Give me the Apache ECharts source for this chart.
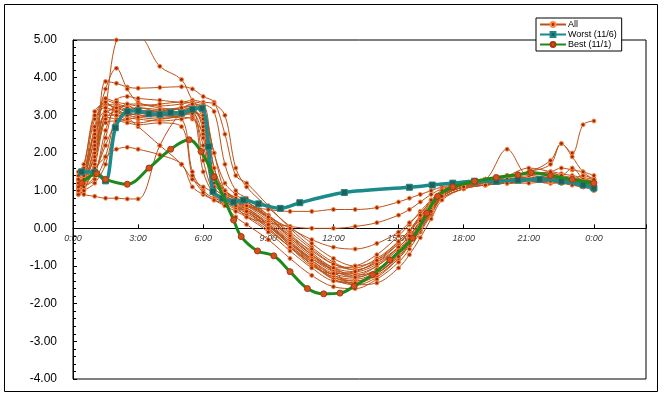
<!DOCTYPE html>
<html>
<head>
<meta charset="utf-8">
<script src="https://cdn.jsdelivr.net/npm/echarts@6/dist/echarts.min.js"></script>
<style>
  html, body { margin: 0; padding: 0; background: #fff; }
  #chart { width: 664px; height: 397px; }
</style>
</head>
<body>
<div id="chart"></div>
<script>
// sample times (hours) shared by the "All" days
const hours = [0.25, 0.5, 1, 1.5, 2, 2.5, 3, 4, 5, 5.5, 6, 6.5, 7, 7.5, 8, 9, 10, 11, 12, 13,
  14, 15, 15.5, 16, 16.5, 17, 18, 19, 20, 21, 22, 22.5, 23, 23.5, 24]

const day01 = [1.1, 1.3, 1.9, 3.2, 5.0, 5.1, 5.1, 4.3, 3.95, 3.4, 3.1, 1.6, 0.9, 0.6, 0.45, 0.05, -0.4, -0.8, -1.05, -1.0, -0.7, -0.2, 0.1, 0.45, 0.75, 1.0, 1.2, 1.25, 1.3, 1.35, 1.3, 1.3, 1.25, 1.3, 1.2]
const day02 = [1.0, 1.1, 1.6, 3.9, 3.85, 3.75, 3.72, 3.74, 3.76, 3.7, 3.5, 3.35, 2.5, 1.4, 1.2, 0.6, 0.0, -0.5, -0.9, -1.1, -0.9, -0.4, -0.1, 0.3, 0.65, 0.95, 1.15, 1.2, 1.3, 1.35, 1.4, 1.35, 1.3, 1.3, 1.25]
const day03 = [1.2, 1.4, 2.6, 3.7, 4.25, 3.7, 3.35, 3.2, 3.15, 3.1, 2.9, 1.4, 1.0, 0.8, 0.65, 0.3, -0.2, -0.6, -0.95, -1.05, -0.8, -0.35, -0.05, 0.3, 0.7, 1.0, 1.2, 1.3, 1.3, 1.35, 1.3, 1.3, 1.3, 1.25, 1.2]
const day04 = [0.9, 1.0, 1.8, 3.0, 3.2, 3.1, 3.0, 3.0, 3.05, 3.1, 2.9, 1.2, 0.9, 0.8, 0.7, 0.3, -0.25, -0.7, -1.1, -1.3, -1.1, -0.6, -0.3, 0.1, 0.5, 0.9, 1.1, 1.2, 1.25, 1.3, 1.3, 1.25, 1.3, 1.2, 1.25]
const day05 = [1.3, 1.6, 3.1, 3.3, 3.2, 3.25, 3.1, 3.0, 2.9, 1.5, 1.0, 0.8, 0.7, 0.55, 0.4, 0.0, -0.5, -0.95, -1.3, -1.45, -1.2, -0.7, -0.35, 0.05, 0.45, 0.85, 1.1, 1.15, 1.2, 1.25, 1.3, 1.2, 1.25, 1.2, 1.1]
const day06 = [1.0, 1.2, 2.2, 3.4, 3.3, 3.15, 3.2, 3.1, 3.2, 3.3, 3.0, 1.0, 0.7, 0.6, 0.5, 0.1, -0.4, -0.9, -1.35, -1.5, -1.3, -0.8, -0.45, -0.05, 0.4, 0.8, 1.05, 1.15, 1.2, 1.25, 1.2, 1.25, 1.2, 1.15, 1.2]
const day07 = [1.0, 0.9, 0.85, 0.8, 0.8, 0.78, 0.78, 2.2, 3.1, 3.2, 3.1, 2.0, 1.0, 0.8, 0.7, 0.35, -0.1, -0.55, -0.95, -1.1, -0.9, -0.5, -0.2, 0.2, 0.6, 0.95, 1.15, 1.2, 1.25, 1.3, 1.35, 1.3, 1.25, 1.2, 1.2]
const day08 = [1.1, 1.2, 1.5, 2.2, 2.8, 2.9, 2.7, 2.2, 1.7, 1.3, 1.1, 0.95, 0.8, 0.65, 0.5, 0.1, -0.35, -0.8, -1.15, -1.25, -1.0, -0.5, -0.2, 0.2, 0.6, 0.95, 1.15, 1.2, 1.2, 1.25, 1.2, 1.2, 1.15, 1.1, 1.1]
const day09 = [1.2, 1.3, 1.5, 2.4, 3.4, 3.5, 3.45, 3.4, 3.35, 3.4, 3.35, 3.3, 3.0, 1.6, 1.1, 0.55, 0.05, -0.4, -0.8, -1.0, -0.85, -0.4, -0.1, 0.25, 0.6, 0.95, 1.2, 1.3, 1.35, 1.4, 1.5, 1.45, 1.4, 1.35, 1.3]
const day10 = [1.4, 1.5, 2.5, 2.95, 2.9, 2.85, 2.8, 2.9, 2.95, 2.9, 2.5, 1.1, 0.85, 0.7, 0.55, 0.15, -0.35, -0.85, -1.25, -1.4, -1.2, -0.75, -0.4, 0.0, 0.45, 0.85, 1.1, 1.2, 1.25, 1.3, 1.4, 1.35, 1.3, 1.4, 1.3]
const day11 = [1.0, 1.1, 2.0, 3.1, 3.15, 3.0, 3.05, 3.1, 3.2, 3.15, 2.8, 1.3, 1.0, 0.8, 0.6, 0.5, 0.45, 0.45, 0.5, 0.5, 0.55, 0.7, 0.8, 0.9, 1.0, 1.1, 1.2, 1.3, 1.4, 1.45, 1.5, 1.6, 1.55, 1.5, 1.4]
const day12 = [1.1, 1.2, 1.7, 2.9, 3.1, 3.05, 3.0, 2.95, 3.0, 3.1, 2.7, 1.2, 0.9, 0.6, 0.3, 0.15, 0.05, 0.0, 0.0, 0.05, 0.15, 0.35, 0.5, 0.7, 0.9, 1.05, 1.2, 1.25, 1.3, 1.3, 1.35, 1.3, 1.3, 1.25, 1.2]
const day13 = [1.2, 1.4, 2.9, 3.2, 3.1, 3.0, 2.95, 2.9, 3.0, 3.1, 1.8, 0.9, 0.6, 0.3, 0.1, -0.3, -0.8, -1.25, -1.55, -1.6, -1.35, -0.9, -0.55, -0.1, 0.35, 0.8, 1.05, 1.15, 1.2, 1.25, 1.25, 1.2, 1.2, 1.15, 1.1]
const day14 = [1.0, 1.1, 1.4, 2.6, 3.2, 3.25, 3.15, 3.1, 3.2, 3.25, 3.0, 1.4, 0.95, 0.75, 0.6, 0.2, -0.3, -0.75, -1.1, -1.2, -1.0, -0.55, -0.25, 0.15, 0.55, 0.9, 1.2, 1.3, 2.1, 1.4, 1.45, 1.4, 1.35, 1.3, 1.25]
const day15 = [1.1, 1.3, 2.4, 3.3, 3.2, 3.1, 3.1, 3.05, 3.1, 3.2, 2.6, 1.1, 0.85, 0.7, 0.55, 0.1, -0.45, -0.9, -1.25, -1.35, -1.15, -0.65, -0.3, 0.1, 0.5, 0.9, 1.15, 1.25, 1.35, 1.5, 1.7, 2.25, 2.0, 2.75, 2.85]
const day16 = [1.3, 1.4, 1.6, 1.9, 2.1, 2.15, 2.1, 1.95, 1.7, 1.1, 0.9, 0.75, 0.65, 0.5, 0.35, -0.05, -0.5, -0.95, -1.3, -1.4, -1.2, -0.7, -0.35, 0.05, 0.45, 0.85, 1.1, 1.2, 1.25, 1.3, 1.3, 1.25, 1.2, 1.2, 1.15]
const day17 = [1.0, 1.1, 1.3, 1.9, 3.0, 3.3, 3.3, 3.25, 3.3, 3.35, 3.3, 3.1, 1.7, 1.0, 0.8, 0.35, -0.15, -0.65, -1.05, -1.25, -1.1, -0.6, -0.3, 0.1, 0.5, 0.9, 1.15, 1.25, 1.3, 1.35, 1.35, 1.3, 1.3, 1.25, 1.2]
const day18 = [1.5, 1.7, 3.0, 3.35, 3.1, 2.95, 2.9, 2.85, 2.9, 2.95, 1.5, 0.9, 0.7, 0.55, 0.45, 0.05, -0.45, -0.95, -1.35, -1.45, -1.25, -0.8, -0.45, -0.05, 0.4, 0.85, 1.1, 1.2, 1.2, 1.3, 1.25, 1.3, 1.25, 1.2, 1.15]
const day19 = [0.9, 1.0, 1.2, 1.7, 2.8, 3.1, 3.2, 3.15, 3.1, 3.2, 3.25, 1.6, 1.0, 0.8, 0.65, 0.25, -0.25, -0.7, -1.05, -1.15, -0.95, -0.5, -0.2, 0.2, 0.6, 0.95, 1.2, 1.3, 1.4, 1.5, 1.8, 2.25, 1.9, 1.5, 1.3]
const day20 = [1.1, 1.2, 2.1, 3.0, 3.0, 2.9, 2.95, 3.0, 3.05, 3.0, 2.2, 1.0, 0.8, 0.7, 0.6, 0.3, 0.0, -0.3, -0.5, -0.55, -0.4, -0.1, 0.15, 0.4, 0.7, 0.95, 1.15, 1.2, 1.25, 1.3, 1.25, 1.3, 1.25, 1.2, 1.2]
const day21 = [1.2, 1.3, 1.9, 3.2, 3.3, 3.2, 3.1, 3.15, 3.2, 3.3, 3.2, 2.0, 1.2, 0.9, 0.7, 0.3, -0.2, -0.7, -1.15, -1.5, -1.45, -1.05, -0.7, -0.25, 0.25, 0.75, 1.05, 1.15, 1.2, 1.25, 1.25, 1.2, 1.25, 1.2, 1.2]
const day22 = [1.0, 1.2, 2.7, 3.45, 3.35, 3.3, 3.25, 3.3, 3.35, 3.3, 2.9, 1.3, 0.9, 0.7, 0.5, 0.1, -0.4, -0.85, -1.2, -1.3, -1.1, -0.6, -0.3, 0.1, 0.5, 0.9, 1.15, 1.3, 1.4, 1.6, 1.5, 1.4, 1.6, 1.3, 1.1]
const day23 = [1.3, 1.5, 2.6, 3.1, 3.0, 3.0, 3.05, 3.0, 3.0, 3.05, 2.4, 1.0, 0.75, 0.6, 0.45, 0.0, -0.5, -1.0, -1.2, -1.15, -0.85, -0.35, -0.05, 0.35, 0.75, 1.0, 1.2, 1.25, 1.3, 1.3, 1.35, 1.3, 1.3, 1.25, 1.3]
const day24 = [1.1, 1.3, 2.3, 2.8, 2.85, 2.8, 2.75, 2.8, 2.7, 1.4, 0.95, 0.75, 0.6, 0.45, 0.3, -0.1, -0.6, -1.05, -1.4, -1.45, -1.2, -0.75, -0.4, 0.0, 0.45, 0.85, 1.1, 1.15, 1.2, 1.2, 1.25, 1.2, 1.15, 1.1, 1.0]

const allDays = [day01, day02, day03, day04, day05, day06, day07, day08, day09, day10, day11, day12,
  day13, day14, day15, day16, day17, day18, day19, day20, day21, day22, day23, day24]

// Worst (11/6)
const worstHours = [0.4, 1.0, 1.5, 1.95, 2.5, 3.0, 3.5, 4.0, 4.5, 5.0, 5.5, 5.95, 6.25, 6.45, 6.9, 7.4, 7.85,
  8.55, 9.55, 10.45, 12.5, 15.5, 16.55, 17.5, 18.5, 19.5, 20.5, 21.5, 22.5, 23.5, 24]
const worstVals = [1.5, 1.48, 1.26, 2.67, 3.1, 3.12, 3.04, 3.03, 3.07, 3.06, 3.16, 3.19, 2.17, 0.98, 0.8, 0.7, 0.75,
  0.65, 0.53, 0.68, 0.95, 1.09, 1.15, 1.2, 1.25, 1.25, 1.28, 1.3, 1.25, 1.15, 1.07]

// Best (11/1)
const bestHours = [0.4, 1.1, 1.5, 2.5, 3.5, 4.5, 5.35, 5.9, 6.5, 7.4, 7.75, 8.5, 9.25, 10.0, 10.8, 11.55, 12.3,
  12.95, 13.8, 14.6, 15.65, 16.3, 16.8, 17.5, 18.5, 19.5, 20.5, 21.1, 22, 23, 24]
const bestVals = [1.2, 1.45, 1.3, 1.17, 1.6, 2.1, 2.35, 2.04, 1.37, 0.22, -0.22, -0.6, -0.73, -1.15, -1.6, -1.74, -1.72,
  -1.54, -1.23, -0.84, -0.26, 0.4, 0.85, 1.1, 1.25, 1.35, 1.42, 1.48, 1.4, 1.3, 1.2]

// time axis labels, written just under the zero line
const tickHours = [0, 3, 6, 9, 12, 15, 18, 21, 24]
const tickLabels = ['0:00', '3:00', '6:00', '9:00', '12:00', '15:00', '18:00', '21:00', '0:00']

const yTicks = [-4, -3, -2, -1, 0, 1, 2, 3, 4, 5]

function pairs(xs, ys) {
  return xs.map((x, i) => [x, ys[i]])
}

const chart = echarts.init(document.getElementById('chart'), null, { renderer: 'canvas' })

const series = allDays.map(d => ({
  name: 'All',
  type: 'line',
  data: pairs(hours, d),
  smooth: 0.35,
  symbol: 'circle',
  symbolSize: 4,
  lineStyle: { color: '#bb5218', width: 1 },
  itemStyle: { color: '#9a2a10', borderColor: '#ff8a44', borderWidth: 1 },
  z: 2
}))

series.push({
  name: 'Worst (11/6)',
  type: 'line',
  data: pairs(worstHours, worstVals),
  smooth: 0.3,
  symbol: 'rect',
  symbolSize: 6,
  lineStyle: { color: '#1b8a8a', width: 3.5 },
  itemStyle: { color: '#245f55', borderColor: '#1b8a8a', borderWidth: 1 },
  z: 4
})

series.push({
  name: 'Best (11/1)',
  type: 'line',
  data: pairs(bestHours, bestVals),
  smooth: 0.35,
  symbol: 'circle',
  symbolSize: 6,
  lineStyle: { color: '#1b8a1b', width: 3 },
  itemStyle: { color: '#d4501c', borderColor: '#a8380f', borderWidth: 1 },
  z: 5
})

// tick labels placed on the zero line through the axes (drawn under the lines)
series.push({
  name: 'ticks',
  type: 'scatter',
  data: tickHours.map(h => [h, 0]),
  symbolSize: 0,
  silent: true,
  z: 1,
  label: {
    show: true,
    position: 'bottom',
    distance: 6,
    fontSize: 9,
    fontStyle: 'italic',
    color: '#000',
    formatter: p => tickLabels[p.dataIndex]
  }
})

chart.setOption({
  animation: false,
  backgroundColor: '#fff',
  textStyle: { fontFamily: 'Liberation Sans' },
  graphic: [{
    type: 'rect',
    shape: { x: 4.5, y: 4.5, width: 653, height: 387 },
    style: { fill: 'none', stroke: '#000', lineWidth: 1 },
    silent: true
  }],
  grid: {
    left: 73, top: 40, right: 18, bottom: 18,
    show: true, borderColor: '#000', borderWidth: 1, backgroundColor: '#fff'
  },
  legend: {
    data: ['All', 'Worst (11/6)', 'Best (11/1)'],
    orient: 'vertical',
    left: 536, top: 18,
    padding: [2, 5, 2, 3],
    itemGap: 1,
    itemWidth: 26,
    itemHeight: 6,
    backgroundColor: '#fff',
    borderColor: '#000',
    borderWidth: 1,
    borderRadius: 0,
    textStyle: { fontSize: 9, color: '#000', padding: [0, 0, 0, -3] }
  },
  xAxis: {
    type: 'value',
    min: 0,
    max: 26.4,
    interval: 3,
    splitLine: { show: false },
    axisLine: { onZero: true, lineStyle: { color: '#000', width: 1 } },
    axisTick: { inside: true, length: 4, lineStyle: { color: '#000' } },
    axisLabel: { show: false }
  },
  yAxis: {
    type: 'value',
    min: yTicks[0],
    max: yTicks[yTicks.length - 1],
    interval: 1,
    splitLine: { show: false },
    axisLine: { show: true, lineStyle: { color: '#000', width: 1 } },
    axisTick: { inside: true, length: 4, lineStyle: { color: '#000' } },
    minorTick: { show: true, splitNumber: 5, length: 3, lineStyle: { color: '#000' } },
    axisLabel: {
      margin: 16,
      fontSize: 12,
      color: '#000',
      formatter: v => v.toFixed(2)
    }
  },
  series: series
})
</script>
</body>
</html>
